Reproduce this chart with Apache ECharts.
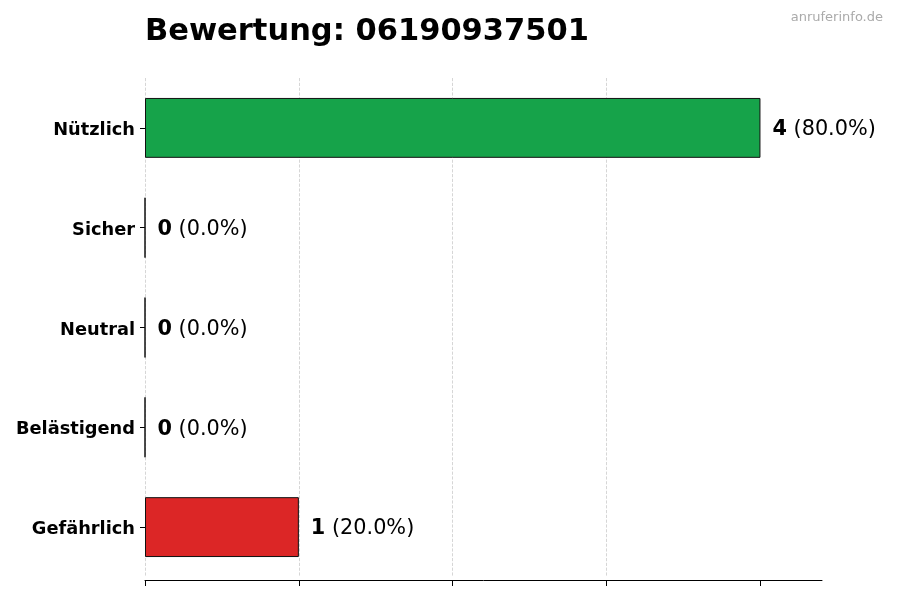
<!DOCTYPE html>
<html><head><meta charset="utf-8">
<script src="https://cdn.jsdelivr.net/npm/echarts@6/dist/echarts.min.js"></script>
<style>html,body{margin:0;padding:0;background:#fff}#c{width:900px;height:600px}</style>
</head><body><div id="c"></div>
<script>
const categories = ['Nützlich', 'Sicher', 'Neutral', 'Belästigend', 'Gefährlich'];
const counts = [4, 0, 0, 0, 1];
const percents = [80.0, 0.0, 0.0, 0.0, 20.0];
const xTicks = [0, 1, 2, 3, 4];
const titleText = 'Bewertung: 06190937501';
const watermark = 'anruferinfo.de';

const font = 'DejaVu Sans';
const chart = echarts.init(document.getElementById('c'));
chart.setOption({
  animation: false,
  textStyle: { fontFamily: font },
  title: [
    { text: titleText, left: 140, top: 12, textStyle: { fontFamily: font, fontSize: 30.5, fontWeight: 'bold', color: '#000' } },
    { text: watermark, right: 12, top: 6, textStyle: { fontFamily: font, fontSize: 13, fontWeight: 'normal', color: '#aaaaaa' } }
  ],
  grid: { left: 145, right: 78, top: 78, bottom: 23, containLabel: false },
  xAxis: {
    type: 'value', min: 0, max: 4.4, interval: 1, offset: 3,
    axisLine: { show: true, lineStyle: { color: '#000', width: 1 } },
    axisTick: { show: true, length: 6, customValues: xTicks, lineStyle: { color: '#000' } },
    axisLabel: { show: false, customValues: xTicks },
    splitLine: { show: true, showMaxLine: false, lineStyle: { color: '#cccccc', type: 'dashed', width: 0.8 } }
  },
  yAxis: {
    type: 'category', inverse: true, data: categories,
    axisLine: { show: false },
    axisTick: { show: true, alignWithLabel: true, length: 5, lineStyle: { color: '#000' } },
    axisLabel: {
      margin: 10,
      formatter: v => '{a|' + v + '}',
      rich: { a: { fontFamily: font, fontSize: 17.8, fontWeight: 'bold', color: '#000', padding: [5, 0, 0, 0] } }
    }
  },
  series: [{
    type: 'bar',
    barWidth: '60%',
    data: counts.map((v, i) => ({
      value: v,
      itemStyle: { color: i === 4 ? '#dc2626' : '#16a34a', borderColor: '#111', borderWidth: 1 }
    })),
    label: {
      show: true, position: 'right', distance: 12, offset: [0, 2],
      formatter: p => '{b|' + counts[p.dataIndex] + '}{n| (' + percents[p.dataIndex].toFixed(1) + '%)}',
      rich: {
        b: { fontFamily: font, fontSize: 20.8, fontWeight: 'bold', color: '#000' },
        n: { fontFamily: font, fontSize: 20.8, color: '#000' }
      }
    }
  }]
});
</script></body></html>
